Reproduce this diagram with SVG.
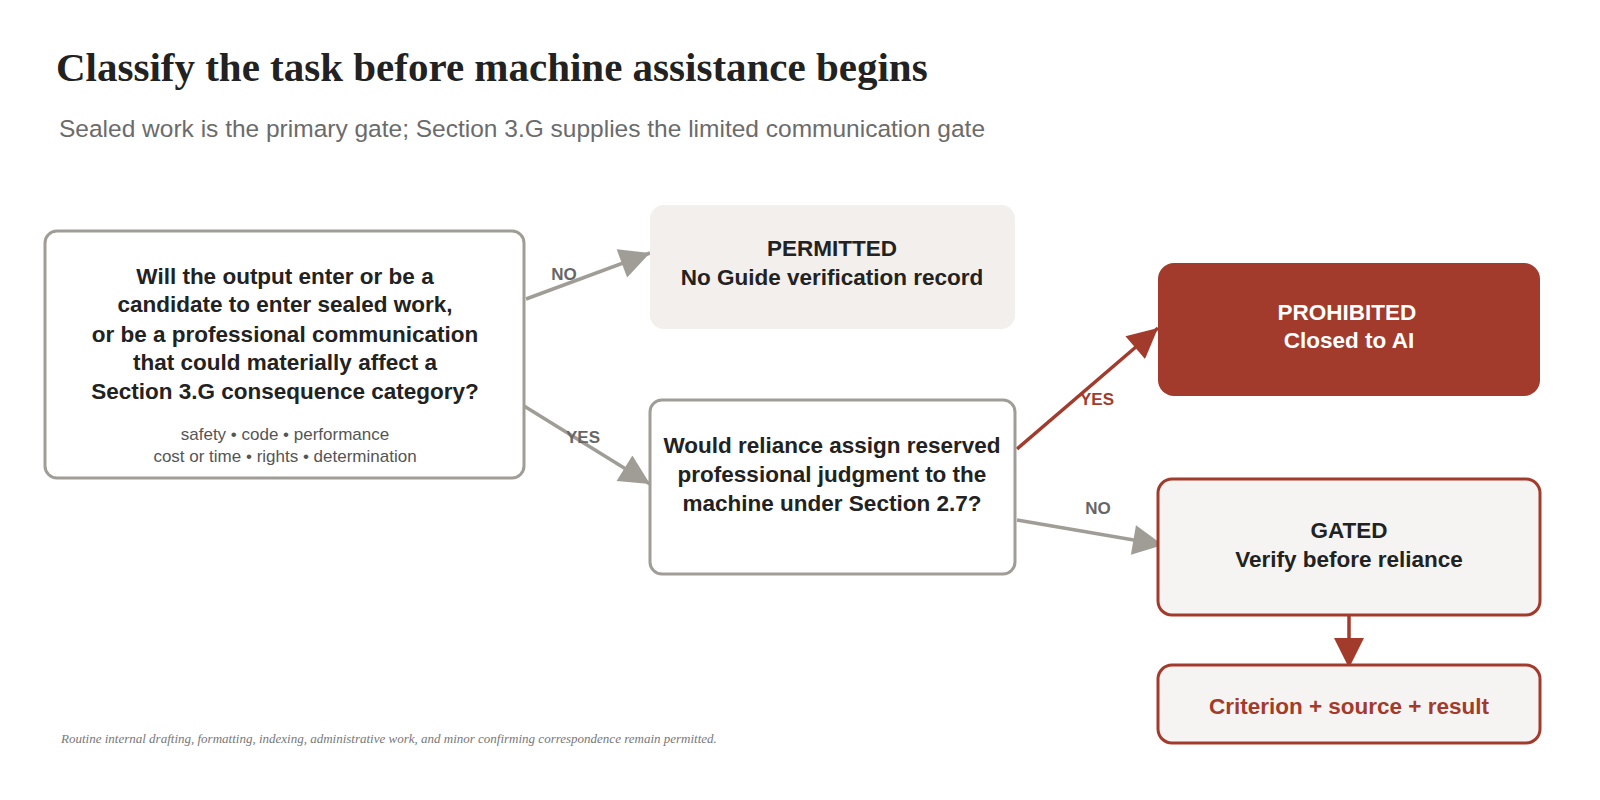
<svg xmlns="http://www.w3.org/2000/svg" width="1600" height="800" viewBox="0 0 1600 800">
<style>
.t{font-family:"Liberation Sans",Arial,sans-serif;font-weight:bold;text-anchor:middle}
.q{font-size:22.5px;fill:#222}
.lab{font-family:"Liberation Sans",Arial,sans-serif;font-weight:bold;font-size:17px;text-anchor:middle}
</style>
<defs>
<marker id="ag" viewBox="0 0 10 10" refX="10" refY="5" markerWidth="32" markerHeight="30" markerUnits="userSpaceOnUse" orient="auto"><path d="M0,0L10,5L0,10z" fill="#a09d97"/></marker>
<marker id="ar" viewBox="0 0 10 10" refX="10" refY="5" markerWidth="32" markerHeight="30" markerUnits="userSpaceOnUse" orient="auto"><path d="M0,0L10,5L0,10z" fill="#a33b2c"/></marker>
</defs>
<rect width="1600" height="800" fill="#fff"/>
<text x="56" y="81" font-family="'Liberation Serif',serif" font-weight="bold" font-size="41" fill="#222">Classify the task before machine assistance begins</text>
<text x="59" y="137" font-family="'Liberation Sans',Arial,sans-serif" font-size="24.5" fill="#6b6b6b">Sealed work is the primary gate; Section 3.G supplies the limited communication gate</text>
<g id="connectors" fill="none" stroke-width="3.5">
<line x1="526" y1="299" x2="650" y2="253" stroke="#a09d97" marker-end="url(#ag)"/>
<line x1="524" y1="406" x2="650" y2="484" stroke="#a09d97" marker-end="url(#ag)"/>
<line x1="1017" y1="449" x2="1158" y2="328" stroke="#a33b2c" marker-end="url(#ar)"/>
<line x1="1017" y1="520" x2="1163" y2="545" stroke="#a09d97" marker-end="url(#ag)"/>
<line x1="1349" y1="615" x2="1349" y2="668" stroke="#a33b2c" marker-end="url(#ar)"/>
<text class="lab" x="564" y="280" fill="#666" stroke="none">NO</text>
<text class="lab" x="583" y="443" fill="#666" stroke="none">YES</text>
<text class="lab" x="1097" y="405" fill="#a33b2c" stroke="none">YES</text>
<text class="lab" x="1098" y="514" fill="#666" stroke="none">NO</text>
</g>
<g id="q1">
<rect x="45" y="231" width="479" height="247" rx="12" fill="#fff" stroke="#a09d97" stroke-width="3"/>
<text class="t q" x="285" y="284">Will the output enter or be a</text>
<text class="t q" x="285" y="312">candidate to enter sealed work,</text>
<text class="t q" x="285" y="342">or be a professional communication</text>
<text class="t q" x="285" y="370">that could materially affect a</text>
<text class="t q" x="285" y="399">Section 3.G consequence category?</text>
<text x="285" y="440" font-family="'Liberation Sans',Arial,sans-serif" font-size="17" fill="#555" text-anchor="middle">safety • code • performance</text>
<text x="285" y="462" font-family="'Liberation Sans',Arial,sans-serif" font-size="17" fill="#555" text-anchor="middle">cost or time • rights • determination</text>
</g>
<g id="permitted">
<rect x="650" y="205" width="365" height="124" rx="14" fill="#f2efec"/>
<text class="t q" x="832" y="256">PERMITTED</text>
<text class="t q" x="832" y="285">No Guide verification record</text>
</g>
<g id="q2">
<rect x="650" y="400" width="365" height="174" rx="12" fill="#fff" stroke="#a09d97" stroke-width="3"/>
<text class="t q" x="832" y="453">Would reliance assign reserved</text>
<text class="t q" x="832" y="482">professional judgment to the</text>
<text class="t q" x="832" y="511">machine under Section 2.7?</text>
</g>
<g id="prohibited">
<rect x="1158" y="263" width="382" height="133" rx="16" fill="#a33b2c"/>
<text class="t" font-size="22.5" fill="#fff" x="1347" y="320">PROHIBITED</text>
<text class="t" font-size="22.5" fill="#fff" x="1349" y="348">Closed to AI</text>
</g>
<g id="gated">
<rect x="1158" y="479" width="382" height="136" rx="14" fill="#f5f4f2" stroke="#a33b2c" stroke-width="3"/>
<text class="t q" x="1349" y="538">GATED</text>
<text class="t q" x="1349" y="567">Verify before reliance</text>
</g>
<g id="record">
<rect x="1158" y="665" width="382" height="78" rx="14" fill="#f5f4f2" stroke="#a33b2c" stroke-width="3"/>
<text class="t" font-size="22.5" fill="#a33b2c" x="1349" y="714">Criterion + source + result</text>
</g>
<text x="61" y="743" font-family="'Liberation Serif',serif" font-style="italic" font-size="13" fill="#777">Routine internal drafting, formatting, indexing, administrative work, and minor confirming correspondence remain permitted.</text>
</svg>
